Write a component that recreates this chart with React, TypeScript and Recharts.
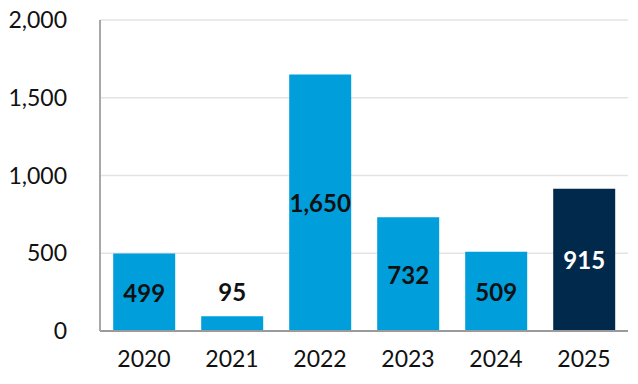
import React from "react";
import { BarChart, Bar, Cell, XAxis, YAxis, CartesianGrid, LabelList } from "recharts";

const years = ["2020", "2021", "2022", "2023", "2024", "2025"];
const values = [499, 95, 1650, 732, 509, 915];
const yTicks = [0, 500, 1000, 1500, 2000];

const LIGHT = "#009edb";
const NAVY = "#00294b";
const FONT = "Lato, 'Open Sans', sans-serif";

const data = years.map((year, i) => ({ year, value: values[i] }));

// value label: centred in bar, or above it when the bar is too short
function ValueLabel(props: any) {
  const { x, y, width, height, value, index } = props;
  const short = height < 30;
  const cx = x + width / 2;
  const cy = short ? y - 25 : y + height / 2;
  const fill = index === years.length - 1 ? "#ffffff" : "#111111";
  return (
    <text x={cx} y={cy} textAnchor="middle" dominantBaseline="central"
          fontFamily={FONT} fontSize={24} fontWeight={700} fill={fill}>
      {Number(value).toLocaleString("en-US")}
    </text>
  );
}

export default function App() {
  return (
    <div style={{ position: "absolute", left: 0, top: 0, background: "#fff" }}>
      <BarChart width={638} height={384} data={data}
                margin={{ top: 20, right: 10, bottom: 0, left: 0 }}
                barCategoryGap="15%">
        <CartesianGrid vertical={false} stroke="#e3e3e3" strokeWidth={1.5} />
        <XAxis dataKey="year" height={53} tickLine={false} tickSize={0} tickMargin={20}
               axisLine={{ stroke: "#9a9a9a", strokeWidth: 2 }}
               tick={{ fontSize: 23, fill: "#111", fontFamily: FONT }} />
        <YAxis width={100} domain={[0, 2000]} ticks={yTicks} tickLine={false} tickSize={0} tickMargin={33}
               axisLine={{ stroke: "#a8a8a8", strokeWidth: 2 }}
               tickFormatter={(v) => Number(v).toLocaleString("en-US")}
               tick={{ fontSize: 23, fill: "#111", fontFamily: FONT }} />
        <Bar dataKey="value" isAnimationActive={false}>
          {data.map((_, i) => (
            <Cell key={i} fill={i === years.length - 1 ? NAVY : LIGHT} />
          ))}
          <LabelList dataKey="value" content={<ValueLabel />} />
        </Bar>
      </BarChart>
    </div>
  );
}
